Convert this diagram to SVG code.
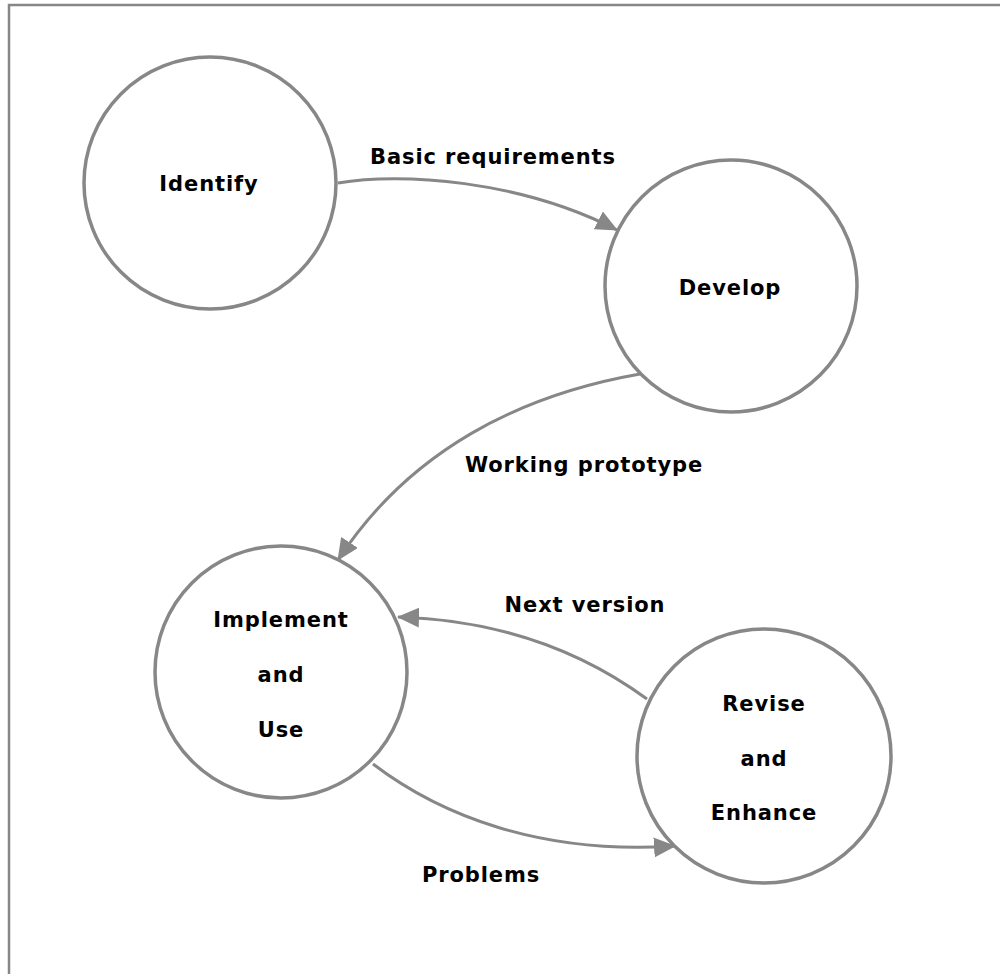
<svg xmlns="http://www.w3.org/2000/svg" width="1000" height="974" viewBox="0 0 1000 974">
  <style>
    .node { fill: #ffffff; stroke: #878787; stroke-width: 3.5; }
    .label { font-family: "DejaVu Sans", Verdana, sans-serif; font-weight: bold; font-size: 21px; letter-spacing: 0.9px; fill: #000000; text-anchor: middle; }
    .edge { fill: none; stroke: #878787; stroke-width: 3; }
  </style>
  <defs>
    <marker id="arrow" markerUnits="userSpaceOnUse" markerWidth="22" markerHeight="20" refX="21" refY="10" orient="auto">
      <path d="M0,0 L22,10 L0,20 z" fill="#878787"/>
    </marker>
  </defs>

  <rect x="9" y="5" width="1000" height="980" fill="#ffffff" stroke="#878787" stroke-width="2.5"/>

  <g id="connectors">
    <path class="edge" d="M338,183 C400,172 520,180 617,230" marker-end="url(#arrow)"/>
    <path class="edge" d="M640,374 C520,395 410,450 338,560" marker-end="url(#arrow)"/>
    <path class="edge" d="M647,699 C580,650 500,620 398,617" marker-end="url(#arrow)"/>
    <path class="edge" d="M373,764 C440,815 540,855 675,846" marker-end="url(#arrow)"/>
    <text class="label" x="493" y="164">Basic requirements</text>
    <text class="label" x="584" y="472">Working prototype</text>
    <text class="label" x="585" y="612">Next version</text>
    <text class="label" x="481" y="882">Problems</text>
  </g>

  <g id="identify">
    <circle class="node" cx="210" cy="183" r="126"/>
    <text class="label" x="209" y="191">Identify</text>
  </g>
  <g id="develop">
    <circle class="node" cx="731" cy="286" r="126"/>
    <text class="label" x="730" y="295">Develop</text>
  </g>
  <g id="implement">
    <circle class="node" cx="281" cy="672" r="126"/>
    <text class="label" x="281" y="627">Implement</text>
    <text class="label" x="281" y="682">and</text>
    <text class="label" x="281" y="737">Use</text>
  </g>
  <g id="revise">
    <circle class="node" cx="764" cy="756" r="127"/>
    <text class="label" x="764" y="711">Revise</text>
    <text class="label" x="764" y="766">and</text>
    <text class="label" x="764" y="820">Enhance</text>
  </g>
</svg>
